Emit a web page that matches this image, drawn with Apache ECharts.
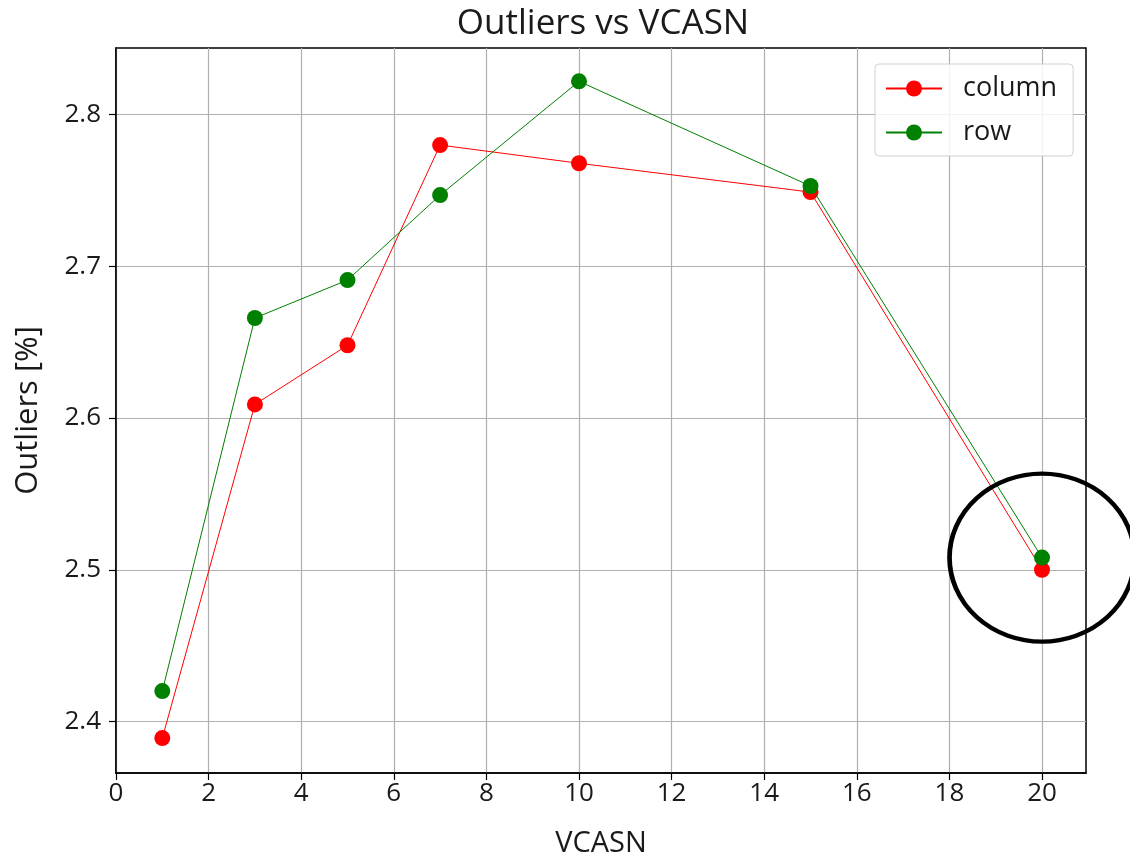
<!DOCTYPE html>
<html>
<head>
<meta charset="utf-8">
<script src="https://cdn.jsdelivr.net/npm/echarts@6/dist/echarts.min.js"></script>
<style>
  html, body { margin: 0; padding: 0; background: #fff; }
  #chart { width: 1130px; height: 854px; }
</style>
</head>
<body>
<div id="chart"></div>
<script>
// VCASN settings scanned
const vcasn = [1, 3, 5, 7, 10, 15, 20];
// Outlier percentage per readout direction
const columnOutliers = [2.389, 2.609, 2.648, 2.780, 2.768, 2.749, 2.500];
const rowOutliers = [2.420, 2.666, 2.691, 2.747, 2.822, 2.753, 2.508];
// Highlighted point (last setting)
const highlightPoint = [20, 2.508];
// Tick values
const xTicks = [0, 2, 4, 6, 8, 10, 12, 14, 16, 18, 20];
const yTicks = [2.4, 2.5, 2.6, 2.7, 2.8];

const FONT = 'Open Sans';
const TXT = '#1a1a1a';

const pairs = (xs, ys) => xs.map((x, i) => [x, ys[i]]);

const chart = echarts.init(document.getElementById('chart'), null, { renderer: 'canvas' });

chart.setOption({
  animation: false,
  backgroundColor: '#fff',
  title: {
    text: 'Outliers vs VCASN',
    left: 598,
    textAlign: 'center',
    top: 2,
    textStyle: { fontFamily: FONT, fontSize: 35, fontWeight: 'normal', color: TXT }
  },
  grid: {
    left: 116, right: 44, top: 48, bottom: 81,
    outerBoundsMode: 'none',
    containLabel: false,
    show: true, borderColor: '#000', borderWidth: 1.5, backgroundColor: 'transparent'
  },
  legend: {
    orient: 'vertical',
    left: 875, top: 64,
    data: ['column', 'row'],
    itemWidth: 56, itemHeight: 20, itemGap: 17,
    padding: [11, 16, 10, 10],
    backgroundColor: 'rgba(255,255,255,0.85)',
    borderColor: '#d0d0d0', borderWidth: 1, borderRadius: 4,
    textStyle: { fontFamily: FONT, fontSize: 27, color: TXT, padding: [0, 0, 0, 16] }
  },
  xAxis: {
    type: 'value',
    min: 0, max: 20.95,
    name: 'VCASN', nameLocation: 'middle', nameGap: 56,
    nameTextStyle: { fontFamily: FONT, fontSize: 29, color: TXT },
    axisLine: { show: true, onZero: false, lineStyle: { color: '#000', width: 1.5 } },
    axisTick: { show: true, length: 7, customValues: xTicks, lineStyle: { color: '#000', width: 1.2 } },
    axisLabel: { customValues: xTicks, fontFamily: FONT, fontSize: 26, color: TXT, margin: 8 },
    splitLine: { show: true, lineStyle: { color: '#b0b0b0', width: 1.2 } }
  },
  yAxis: {
    type: 'value',
    min: 2.366, max: 2.844,
    name: 'Outliers [%]', nameLocation: 'middle', nameGap: 72, nameRotate: 90,
    nameTextStyle: { fontFamily: FONT, fontSize: 31, color: TXT },
    axisLine: { show: true, onZero: false, lineStyle: { color: '#000', width: 1.5 } },
    axisTick: { show: true, length: 7, customValues: yTicks, lineStyle: { color: '#000', width: 1.2 } },
    axisLabel: { customValues: yTicks, fontFamily: FONT, fontSize: 26, color: TXT, margin: 15,
                 formatter: v => v.toFixed(1) },
    splitLine: { show: true, lineStyle: { color: '#b0b0b0', width: 1.2 } }
  },
  series: [
    {
      name: 'column', type: 'line',
      data: pairs(vcasn, columnOutliers),
      symbol: 'circle', symbolSize: 16,
      lineStyle: { color: '#ff0000', width: 1 },
      itemStyle: { color: '#ff0000' },
      z: 3
    },
    {
      name: 'row', type: 'line',
      data: pairs(vcasn, rowOutliers),
      symbol: 'circle', symbolSize: 16,
      lineStyle: { color: '#008000', width: 1 },
      itemStyle: { color: '#008000' },
      z: 4
    },
    {
      name: 'highlight', type: 'scatter',
      data: [highlightPoint],
      symbol: 'circle', symbolSize: [185, 168],
      itemStyle: { color: 'rgba(0,0,0,0)', borderColor: '#000', borderWidth: 4.5, opacity: 1 },
      silent: true, clip: false, z: 5
    }
  ]
});
</script>
</body>
</html>
